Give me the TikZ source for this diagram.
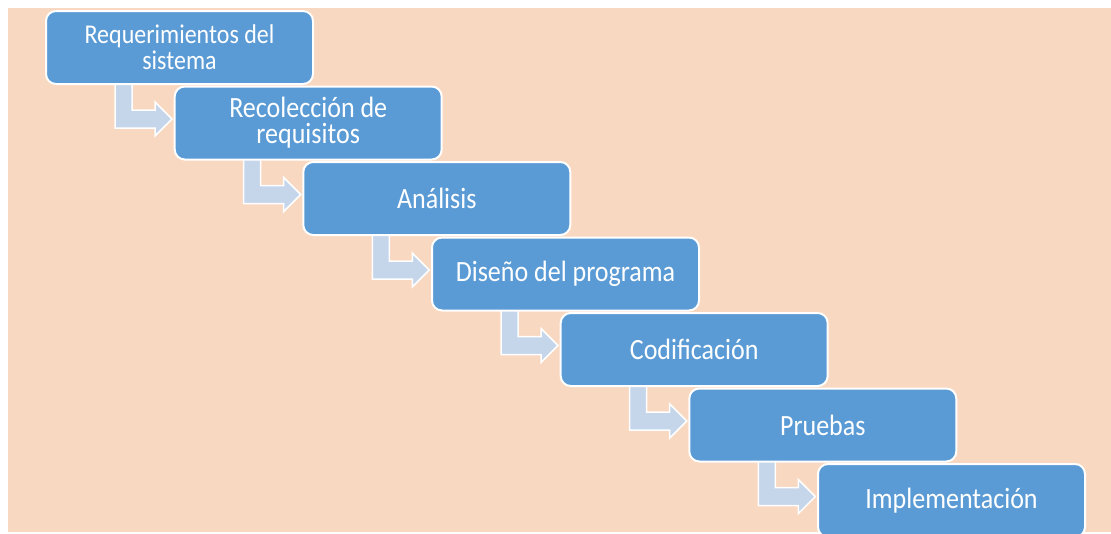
\documentclass[tikz,border=0pt]{standalone}
\usepackage{fontspec}
\setmainfont{Carlito}
\newfontfamily\boxfont[FakeStretch=0.885]{Carlito}
\usetikzlibrary{calc}
\pgfdeclarelayer{bottom}
\pgfdeclarelayer{arrows}
\pgfsetlayers{bottom,arrows,main}
\definecolor{bgpeach}{RGB}{248,216,192}
\definecolor{boxblue}{RGB}{91,155,213}
\definecolor{arrowblue}{RGB}{197,213,234}
\tikzset{
  stepbox/.style={draw=white, line width=2pt, fill=boxblue, rounded corners=10pt,
    minimum width=267pt, minimum height=73pt, anchor=north west, inner sep=2pt,
    text=white, align=center, font=\boxfont\fontsize{29.4}{26}\selectfont},
  smalltext/.style={font=\boxfont\fontsize{27.1}{26}\selectfont},
  bentarrow/.style={draw=white, line width=1.5pt, fill=arrowblue, line join=miter}
}
\begin{document}
\begin{tikzpicture}[x=1pt,y=-1pt]
\begin{pgfonlayer}{bottom}
\fill[white] (0,0) rectangle (1111,533);
\fill[bgpeach] (8,8) rectangle (1111,532);
\end{pgfonlayer}
\useasboundingbox (0,0) rectangle (1111,533);
\clip (0,0) rectangle (1111,533);
\node[stepbox, smalltext] (b1) at (45,10) {Requerimientos del\\sistema};
\node[stepbox] (b2) at (173.7,85.5) {Recolección de\\requisitos};
\node[stepbox] (b3) at (302.3,161) {Análisis};
\node[stepbox] (b4) at (431,236.5) {Diseño del programa};
\node[stepbox] (b5) at (559.7,312) {Codificación};
\node[stepbox] (b6) at (688.3,387.5) {Pruebas};
\node[stepbox] (b7) at (817,463) {Implementación};
\begin{pgfonlayer}{arrows}
\foreach \i in {1,...,6}{
  \draw[bentarrow] ($(b\i.south west)+(70,-2)$) -- ++(0,45) -- ++(40,0) -- ++(0,8)
    -- ++(17,-17) -- ++(-17,-17) -- ++(0,8) -- ++(-23,0) -- ++(0,-27) -- cycle;
}
\end{pgfonlayer}
\end{tikzpicture}
\end{document}
